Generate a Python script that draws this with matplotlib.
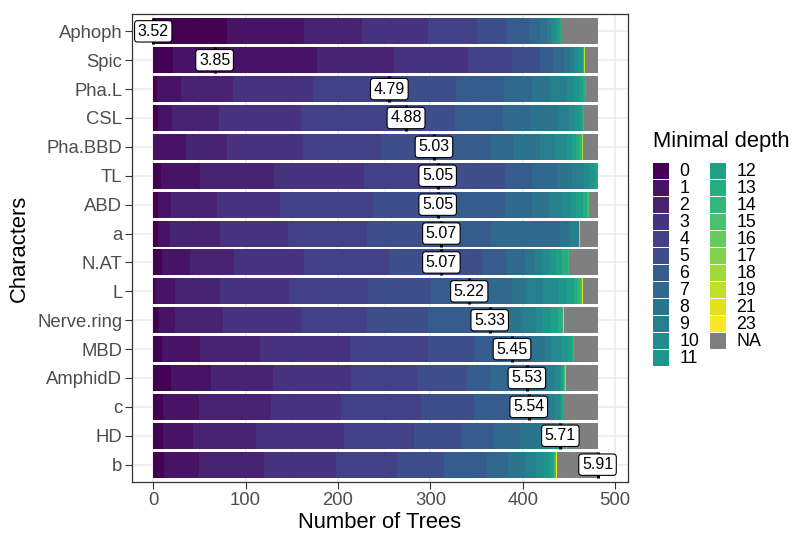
import numpy as np
import matplotlib.pyplot as plt
from matplotlib.patches import Rectangle

plt.rcParams['font.family'] = ['Liberation Sans', 'DejaVu Sans']

# variables, top to bottom
characters = ['Aphoph', 'Spic', 'Pha.L', 'CSL', 'Pha.BBD', 'TL', 'ABD', 'a',
              'N.AT', 'L', 'Nerve.ring', 'MBD', 'AmphidD', 'c', 'HD', 'b']
depth_levels = [str(d) for d in range(20)] + ['21', '23']
mean_depth = [3.52, 3.85, 4.79, 4.88, 5.03, 5.05, 5.05, 5.07,
              5.07, 5.22, 5.33, 5.45, 5.53, 5.54, 5.71, 5.91]

# number of trees per minimal depth (0..19, 21, 23) for each variable
aphoph = [80, 83, 63, 71, 53, 32, 25, 12, 7, 5, 4, 3, 2, 1, 1, 0, 0, 0, 0, 0, 0, 0]
spic = [21, 156, 84, 80, 47, 31, 14, 12, 6, 5, 4, 4, 1, 1, 0, 0, 0, 0, 0, 1, 0, 0]
pha_l = [4, 26, 56, 87, 85, 70, 52, 30, 20, 18, 7, 7, 3, 2, 1, 0, 0, 0, 0, 0, 0, 0]
csl = [5, 15, 51, 89, 111, 56, 52, 30, 29, 12, 7, 5, 2, 1, 1, 0, 0, 0, 0, 0, 0, 0]
pha_bbd = [0, 36, 44, 82, 85, 56, 62, 25, 29, 16, 13, 5, 5, 4, 2, 0, 0, 0, 1, 0, 0, 0]
tl = [8, 43, 80, 97, 82, 71, 29, 27, 16, 13, 7, 5, 2, 1, 0, 0, 0, 0, 0, 0, 0, 0]
abd = [5, 14, 50, 68, 101, 72, 71, 29, 19, 14, 8, 7, 7, 5, 1, 1, 0, 0, 0, 0, 0, 0]
a = [5, 13, 54, 74, 85, 79, 56, 74, 11, 10, 0, 0, 0, 0, 0, 0, 0, 0, 0, 1, 0, 0]
n_at = [9, 31, 47, 76, 92, 101, 26, 21, 10, 8, 8, 7, 7, 6, 1, 0, 0, 0, 0, 0, 0, 0]
l = [2, 22, 48, 75, 85, 69, 46, 41, 16, 18, 17, 9, 7, 5, 3, 1, 0, 0, 0, 0, 1, 0]
nerve_ring = [6, 18, 52, 84, 71, 67, 52, 33, 16, 15, 8, 9, 7, 5, 1, 0, 0, 0, 0, 1, 0, 0]
mbd = [10, 41, 65, 97, 84, 50, 35, 28, 14, 7, 11, 7, 4, 1, 1, 0, 0, 0, 0, 0, 0, 0]
amphidd = [19, 44, 67, 84, 72, 54, 25, 29, 32, 9, 5, 2, 2, 1, 0, 1, 0, 0, 1, 0, 0, 0]
c = [11, 38, 78, 76, 87, 57, 39, 18, 24, 7, 5, 2, 1, 1, 0, 0, 0, 0, 0, 0, 0, 0]
hd = [11, 32, 68, 95, 76, 52, 35, 28, 22, 11, 7, 4, 3, 2, 1, 0, 0, 1, 0, 0, 0, 0]
b = [12, 38, 70, 78, 66, 51, 46, 23, 19, 11, 9, 6, 4, 1, 1, 1, 0, 0, 0, 0, 0, 1]
na_trees = [39, 14, 13, 15, 16, 0, 9, 19, 31, 16, 36, 26, 34, 37, 33, 44]

counts = np.array([aphoph, spic, pha_l, csl, pha_bbd, tl, abd, a,
                   n_at, l, nerve_ring, mbd, amphidd, c, hd, b])
n = len(characters)
y = np.arange(n)[::-1]

colors = plt.cm.viridis(np.linspace(0, 1, len(depth_levels)))
na_color = '#7F7F7F'

W, H = 792, 533
fig = plt.figure(figsize=(W / 100, H / 100), dpi=100)
ax = fig.add_axes([132 / W, 51 / H, 496 / W, 468 / H])

left = np.zeros(n)
for j in range(len(depth_levels)):
    ax.barh(y, counts[:, j], left=left, height=0.9, color=colors[j], linewidth=0)
    left = left + counts[:, j]
ax.barh(y, na_trees, left=left, height=0.9, color=na_color, linewidth=0)
total = left + np.array(na_trees)

# mean minimal depth markers, rescaled to the tree axis
m = np.array(mean_depth)
xpos = (m - m.min()) / (m.max() - m.min()) * total.max()
ax.vlines(xpos, y - 0.45, y + 0.45, color='black', linewidth=2.2, zorder=3)
for xi, yi, mi in zip(xpos, y, mean_depth):
    ax.text(xi, yi, '%.2f' % mi, ha='center', va='center', fontsize=11.5, zorder=4,
            bbox=dict(boxstyle='round,pad=0.2,rounding_size=0.2', fc='white',
                      ec='black', lw=0.8))

ax.set_xlim(-23, 514)
ax.set_ylim(-0.6, n - 0.4)
ax.set_xticks([0, 100, 200, 300, 400, 500])
ax.set_xticks([50, 150, 250, 350, 450], minor=True)
ax.set_yticks(y)
ax.set_yticklabels(characters)
ax.set_axisbelow(True)
ax.grid(which='major', color='#EBEBEB', linewidth=1.1)
ax.grid(which='minor', axis='x', color='#F2F2F2', linewidth=0.6)
ax.tick_params(which='minor', length=0)
ax.tick_params(which='major', length=4.8, width=0.8, color='#333333',
               labelsize=13.3, labelcolor='#4D4D4D', pad=2.2)
for s in ax.spines.values():
    s.set_color('#333333')
    s.set_linewidth(0.9)

ax.set_xlabel('Number of Trees', fontsize=15.8, labelpad=2)
ax.set_ylabel('Characters', fontsize=15.8, labelpad=5)

# legend, drawn as ggplot does: two columns of square keys
fig.text(653 / W, 1 - 142 / H, 'Minimal depth', fontsize=15.8, va='center', ha='left')
labels = depth_levels + ['NA']
key_colors = list(colors) + [na_color]
for k, (lab, col) in enumerate(zip(labels, key_colors)):
    colx = 653 if k < 12 else 710
    row = k if k < 12 else k - 12
    top = 163 + 17 * row
    fig.add_artist(Rectangle((colx / W, 1 - (top + 16) / H), 15.5 / W, 16 / H,
                             transform=fig.transFigure, facecolor=col, edgecolor='none'))
    fig.text((colx + 26.5) / W, 1 - (top + 8.5) / H, lab, fontsize=12.8,
             va='center', ha='left')

fig.savefig('out.png', dpi=100)
